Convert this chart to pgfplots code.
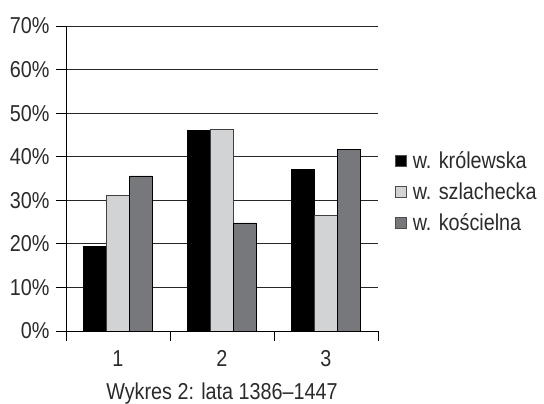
\documentclass[border=0pt]{standalone}
\usepackage{pgfplots}
\pgfplotsset{compat=1.18}
\usepackage{fontspec}
\setmainfont{Liberation Sans}[FakeStretch=0.86]
\definecolor{txt}{HTML}{2B2B2B}
\definecolor{lightbar}{HTML}{D1D3D4}
\definecolor{darkbar}{HTML}{76787B}
\pgfplotstableread{
x krol szlach kosc
1 19.5 31.2 35.6
2 46.0 46.2 24.8
3 37.1 26.5 41.7
}\datatable
\newcommand{\fnt}{\fontsize{23}{27}\selectfont}
\begin{document}
\begin{tikzpicture}
\path[use as bounding box] (-66pt,-73pt) rectangle (478pt,331pt);
\begin{axis}[
  scale only axis,
  width=312pt, height=305pt,
  xmin=0.5, xmax=3.5, ymin=0, ymax=70,
  axis x line=bottom, axis y line=left,
  axis line style={-, black, line width=0.8pt},
  ybar=0pt, bar width=0.22,
  xtick={0.5,1.5,2.5,3.5}, xticklabels={},
  extra x ticks={1,2,3}, extra x tick labels={1,2,3},
  extra x tick style={major tick length=0pt, grid=none,
     xticklabel style={anchor=base, yshift=-36pt}},
  ytick={0,10,...,70},
  yticklabel={\pgfmathprintnumber{\tick}\%},
  yticklabel style={xshift=-3pt},
  /pgf/number format/assume math mode=true,
  tick align=outside, major tick length=10pt,
  tick style={black, line width=0.8pt},
  ymajorgrids, grid style={black!85, line width=0.8pt},
  ticklabel style={font=\fnt, text=txt},
  xlabel={Wykres 2: lata 1386–1447},
  xlabel style={font=\fnt, text=txt, at={(rel axis cs:0.5,0)}, anchor=base, yshift=-68.5pt},
  legend style={at={(rel axis cs:1.045,0.457)}, anchor=west, draw=none, fill=none,
     font=\fnt, text=txt, row sep=9pt},
  legend cell align=left,
  legend image code/.code={\draw[#1, draw=black!70, line width=0.5pt] (0pt,-5.5pt) rectangle (11pt,5.5pt); \path (15pt,0pt);},
]
\addplot[fill=black, draw=black, line width=0.6pt] table[x=x, y=krol] {\datatable};
\addplot[fill=lightbar, draw=black!75, line width=0.6pt] table[x=x, y=szlach] {\datatable};
\addplot[fill=darkbar, draw=black, line width=0.6pt] table[x=x, y=kosc] {\datatable};
\legend{w. królewska, w. szlachecka, w. kościelna}
\end{axis}
\end{tikzpicture}
\end{document}
